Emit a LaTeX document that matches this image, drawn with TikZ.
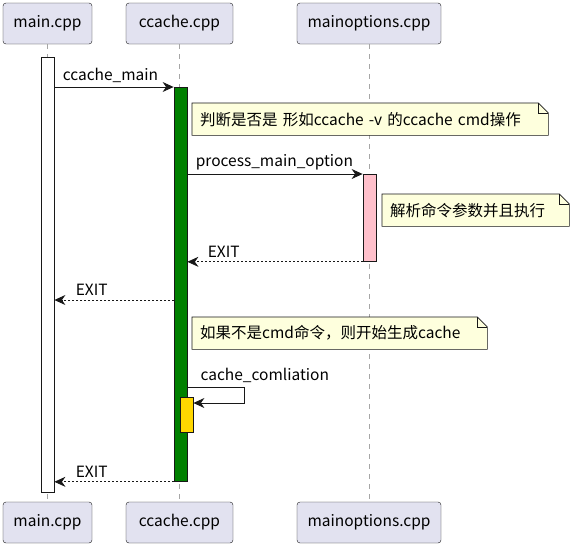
\documentclass[tikz,border=0pt]{standalone}
\usepackage{fontspec}
\setmainfont{Noto Sans CJK SC}
\usetikzlibrary{arrows.meta,calc,positioning}
\definecolor{actorfill}{RGB}{226,226,240}
\definecolor{notefill}{RGB}{254,255,221}
\definecolor{edge}{RGB}{24,24,24}
\definecolor{actgreen}{RGB}{0,128,0}
\definecolor{actpink}{RGB}{255,192,203}
\definecolor{actgold}{RGB}{255,215,0}
\tikzstyle{actor} = [draw=edge, fill=actorfill, rectangle, rounded corners=3pt, minimum height=41pt, text centered, font=\fontsize{15.5}{17}\selectfont]
\tikzstyle{lifeline} = [draw=gray!70, dash pattern=on 5pt off 5pt, line width=0.8pt]
\tikzstyle{activ} = [draw=edge, rectangle, anchor=north, minimum width=13pt, inner sep=0pt, line width=0.8pt]
\tikzstyle{msg} = [draw=edge, line width=0.8pt, -{Stealth[length=11pt,width=10pt,inset=3.5pt]}]
\tikzstyle{ret} = [msg, dash pattern=on 2pt off 2pt]
\tikzstyle{lbl} = [font=\fontsize{15.5}{17}\selectfont, inner sep=1pt, anchor=south west]
\tikzstyle{note} = [rectangle, anchor=north west, minimum height=32pt, inner xsep=8pt, align=left, font=\fontsize{15.5}{17}\selectfont]
% note outline with folded corner
\newcommand{\foldnote}[1]{%
  \filldraw[draw=edge, fill=notefill, line width=0.6pt] (#1.south west) -- (#1.north west) -- ($(#1.north east)+(-10,0)$) -- ($(#1.north east)+(0,10)$) -- (#1.south east) -- cycle;
  \draw[draw=edge, line width=0.6pt] ($(#1.north east)+(-10,0)$) -- ($(#1.north east)+(-10,10)$) -- ($(#1.north east)+(0,10)$);}

\begin{document}
\begin{tikzpicture}[x=1pt, y=-1pt]
    \useasboundingbox (0,0) rectangle (576,547);
    % participants
    \node[actor, minimum width=89pt] (main) at (47.5,23.5) {main.cpp};
    \node[actor, minimum width=107pt] (ccache) at (179.5,23.5) {ccache.cpp};
    \node[actor, minimum width=144pt] (mainopt) at (369,23.5) {mainoptions.cpp};
    \node[actor, minimum width=89pt] (mainb) at (47.5,522.5) {main.cpp};
    \node[actor, minimum width=107pt] (ccacheb) at (179.5,522.5) {ccache.cpp};
    \node[actor, minimum width=144pt] (mainoptb) at (369,522.5) {mainoptions.cpp};
    \path[lifeline] (main) -- (mainb);
    \path[lifeline] (ccache) -- (ccacheb);
    \path[lifeline] (mainopt) -- (mainoptb);
    % activations
    \node[activ, fill=white, minimum height=435pt] (mainact) at (47.5,57) {};
    \node[activ, fill=actgreen, minimum height=394pt] (ccact) at (180.5,87) {};
    \node[activ, fill=actpink, minimum height=87pt] (optact) at (369.5,174) {};
    \node[activ, fill=actgold, minimum height=35pt] (selfact) at (186.5,397) {};
    % notes
    \node[note, minimum width=356pt, text width=340pt] (n1) at (192,103) {};
    \foldnote{n1}
    \node[note, text width=340pt] at (n1.west) [anchor=west] {判断是否是 形如ccache -v 的ccache cmd操作};
    \node[note, minimum width=187pt, text width=171pt] (n2) at (382,194) {};
    \foldnote{n2}
    \node[note, text width=171pt] at (n2.west) [anchor=west] {解析命令参数并且执行};
    \node[note, minimum width=295pt, text width=279pt] (n3) at (192,317) {};
    \foldnote{n3}
    \node[note, text width=279pt] at (n3.west) [anchor=west] {如果不是cmd命令，则开始生成cache};
    % messages
    \path[msg] (mainact.east |- ccact.north) -- (ccact.north west)
        node[lbl, pos=0, xshift=7pt, yshift=3pt] {ccache\_main};
    \path[msg] (ccact.east |- optact.north) -- (optact.north west)
        node[lbl, pos=0, xshift=7pt, yshift=3pt] {process\_main\_option};
    \path[ret] (optact.south west) -- (ccact.east |- optact.south)
        node[lbl, pos=1, xshift=19pt, yshift=3pt] {EXIT};
    \coordinate (exit1) at (174,300);
    \path[ret] (exit1) -- (mainact.east |- exit1)
        node[lbl, pos=1, xshift=20pt, yshift=3pt] {EXIT};
    \coordinate (selfturn) at (244,387);
    \path[msg] (ccact.east |- selfturn) -- (selfturn) |- (selfact.east |- 0,403);
    \node[lbl] at ($(ccact.east |- selfturn)+(12,-3)$) {cache\_comliation};
    \path[ret] (ccact.south west) -- (mainact.east |- ccact.south)
        node[lbl, pos=1, xshift=20pt, yshift=3pt] {EXIT};
\end{tikzpicture}
\end{document}
